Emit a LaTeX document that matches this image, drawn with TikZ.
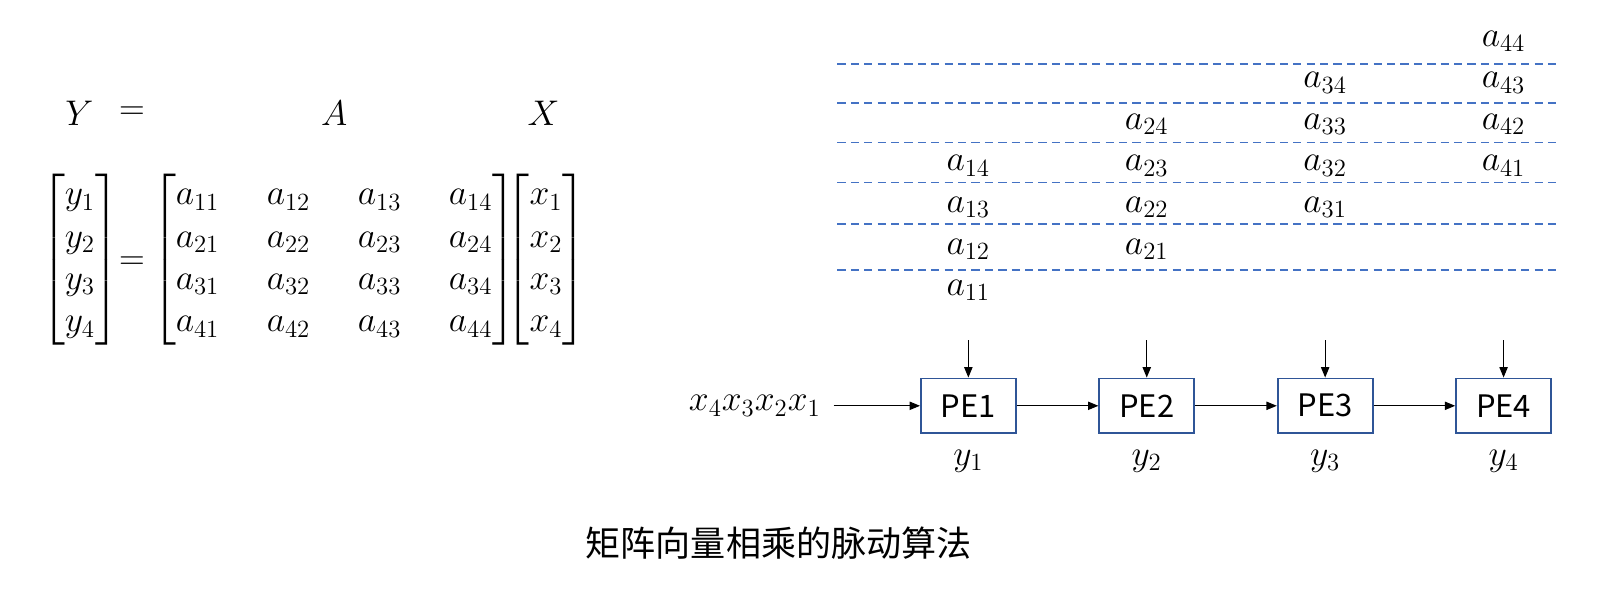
\documentclass[tikz,border=0pt]{standalone}
\usepackage{amsmath}
\usepackage{fontspec}
\usepackage{tikz}
\usetikzlibrary{arrows.meta, positioning}
\newfontfamily\cjk{Noto Sans CJK SC}
\definecolor{PE_Blue}{HTML}{2F5597}
\definecolor{Lane_Blue}{HTML}{4472C4}
\tikzset{
  mathlbl/.style={font=\fontsize{18}{20.5}\selectfont, inner sep=1pt},
  pebox/.style={draw=PE_Blue, line width=0.9pt, minimum width=46pt, minimum height=26.5pt, inner sep=0pt, font=\cjk\fontsize{15}{18}\selectfont},
  flow/.style={-{Triangle[length=5pt,width=4pt]}, line width=0.5pt},
  lane/.style={draw=Lane_Blue, line width=0.7pt, dash pattern=on 4pt off 2.5pt},
}

\begin{document}
\begin{tikzpicture}[x=0.5pt, y=-0.5pt]
\useasboundingbox (0,0) rectangle (1568,573);
% --- Left: Y = A X ---
\node[mathlbl] (lblY) at (77,110) {$Y$};
\node[mathlbl] (lblEq) at (128,110) {$=$};
\node[mathlbl] (lblA) at (324,110) {$A$};
\node[mathlbl] (lblX) at (527,110) {$X$};
\node[mathlbl, inner sep=0pt] (yvec) at (77.5,252) {$\begin{bmatrix}y_1\\y_2\\y_3\\y_4\end{bmatrix}$};
\node[mathlbl] (eqsign) at (128,255) {$=$};
\node[mathlbl, inner sep=0pt] (amat) at (324,252) {$\setlength{\arraycolsep}{11.5pt}\begin{bmatrix}a_{11}&a_{12}&a_{13}&a_{14}\\a_{21}&a_{22}&a_{23}&a_{24}\\a_{31}&a_{32}&a_{33}&a_{34}\\a_{41}&a_{42}&a_{43}&a_{44}\end{bmatrix}$};
\node[mathlbl, inner sep=0pt] (xvec) at (529.5,252) {$\begin{bmatrix}x_1\\x_2\\x_3\\x_4\end{bmatrix}$};
% --- Right: skewed input of A ---
\foreach \y in {62,100,138,177,217,262} {
  \draw[lane] (812,\y) -- (1510,\y);
}
\foreach \i in {1,...,4} {
  \foreach \j in {1,...,4} {
    \node[mathlbl] (a\i\j) at ({939+173*(\i-1)},{40+40.3*(8-\i-\j)}) {$a_{\i\j}$};
  }
}
% --- Processing elements ---
\foreach \i in {1,...,4} {
  \node[pebox] (pe\i) at ({939+173*(\i-1)},393.5) {PE\i};
  \coordinate (feed\i) at ({939+173*(\i-1)},330);
  \draw[flow] (feed\i) -- (pe\i.north);
  \node[mathlbl] (y\i) at ({939+173*(\i-1)},447) {$y_\i$};
}
\node[mathlbl] (xin) at (732,393.5) {$x_4x_3x_2x_1$};
\draw[flow, shorten <=5pt] (xin) -- (pe1);
\foreach \i/\j in {1/2,2/3,3/4} {
  \draw[flow] (pe\i) -- (pe\j);
}
% --- Caption ---
\node[font=\cjk\fontsize{17}{20}\selectfont] (title) at (755,527) {矩阵向量相乘的脉动算法};
\end{tikzpicture}
\end{document}
